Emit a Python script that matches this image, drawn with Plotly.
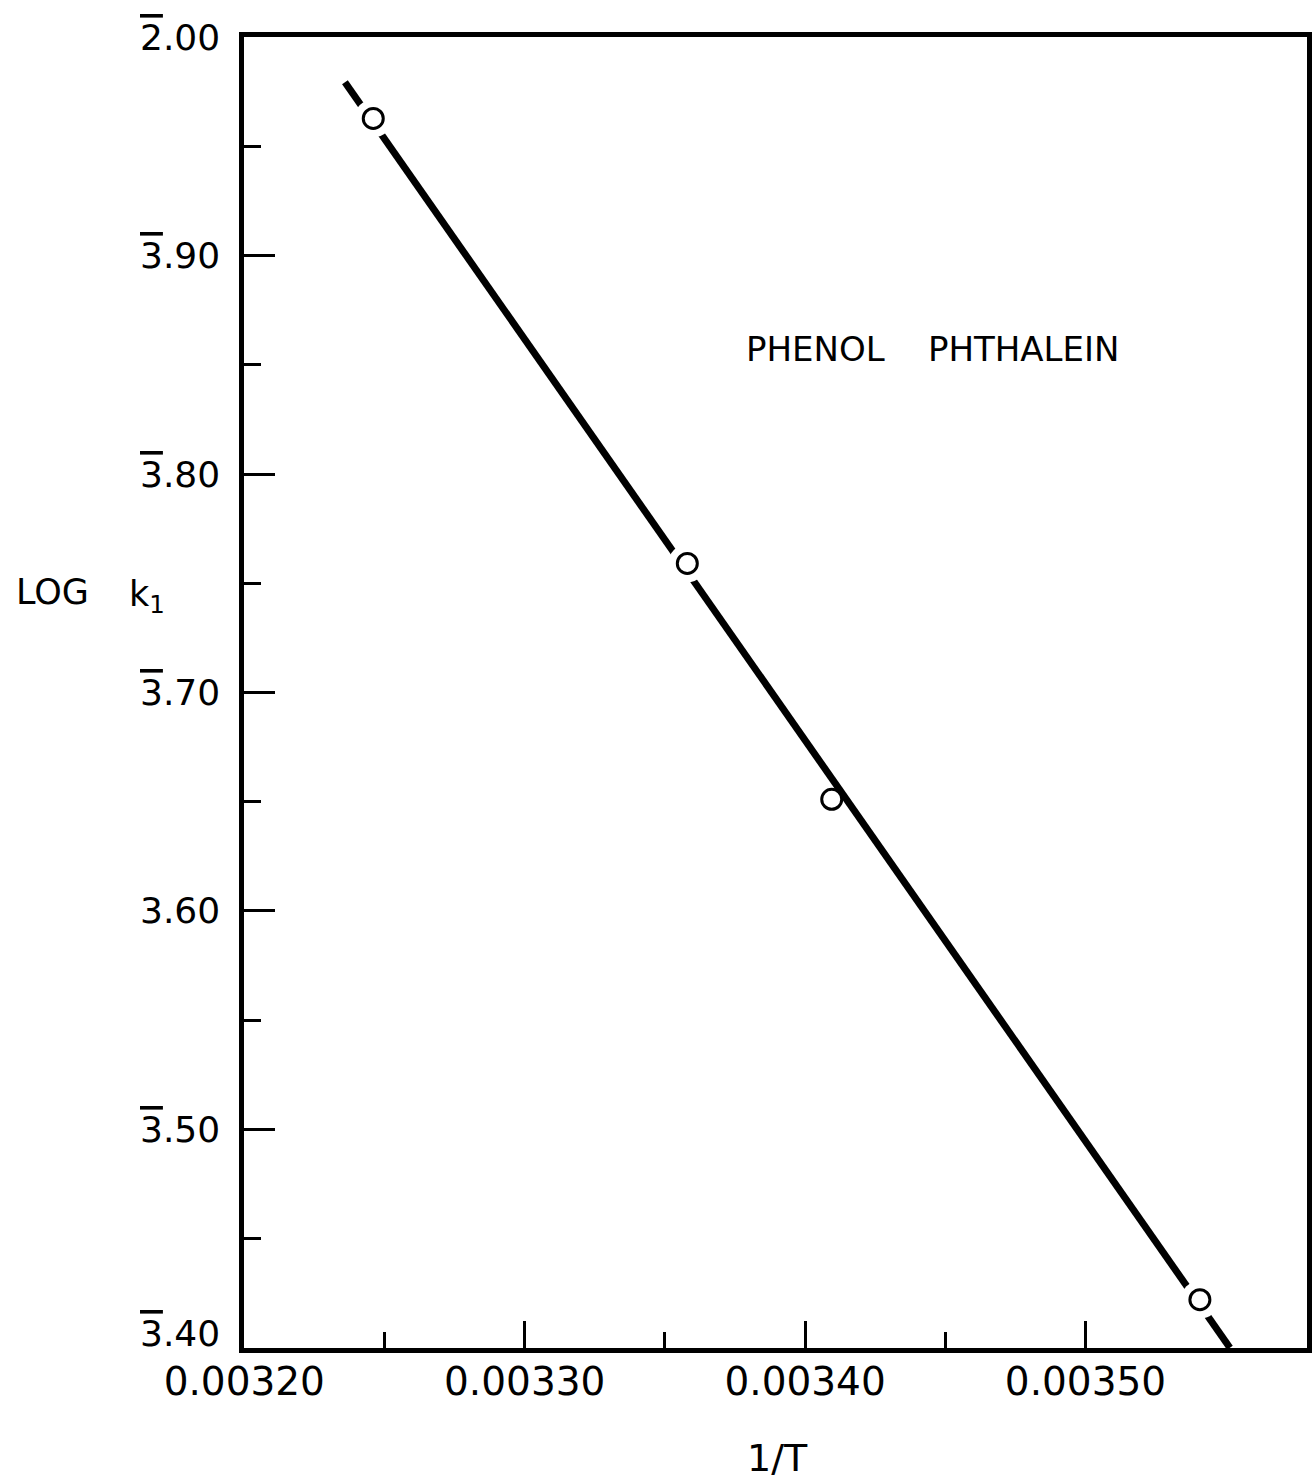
import plotly.graph_objects as go

# ---- data ----
inv_T = [0.003246, 0.003358, 0.0034095, 0.0035408]
log_k1 = [3.9628, 3.7591, 3.6511, 3.4220]

fit_x = [0.0032359, 0.0035515]
fit_y = [3.9794, 3.4000]

x_tickvals = [0.00320, 0.00330, 0.00340, 0.00350]
x_ticktext = ["0.00320", "0.00330", "0.00340", "0.00350"]
x_minor = [0.00325, 0.00335, 0.00345]

OV = "<span style='text-decoration:overline'>{}</span>"
y_tickvals = [3.40, 3.50, 3.60, 3.70, 3.80, 3.90, 4.00]
y_ticktext = [OV.format("3") + ".40", OV.format("3") + ".50", "3.60",
              OV.format("3") + ".70", OV.format("3") + ".80", OV.format("3") + ".90",
              OV.format("2") + ".00"]
y_minor = [3.45, 3.55, 3.65, 3.75, 3.85, 3.95]

# ---- style ----
gap_sizes = [38, 38, 0, 38]
y_label_shift = [14, 0, 0, 0, 0, 0, 0]
FONT = "DejaVu Sans"
W, H = 1316, 1483
L, R, T, B = 244, 4, 37, 135
PW, PH = W - L - R, H - T - B


def px(xp):
    return (xp - L) / PW


def py(yp):
    return (H - B - yp) / PH


fig = go.Figure()
fig.add_trace(go.Scatter(x=fit_x, y=fit_y, mode="lines",
                         line=dict(color="black", width=7),
                         hoverinfo="skip", showlegend=False))
fig.add_trace(go.Scatter(x=inv_T, y=log_k1, mode="markers",
                         marker=dict(size=gap_sizes, color="#ffffff", opacity=1,
                                     line=dict(width=0, color="#ffffff")),
                         hoverinfo="skip", showlegend=False, cliponaxis=False))
fig.add_trace(go.Scatter(x=inv_T, y=log_k1, mode="markers",
                         marker=dict(size=20, color="#ffffff", symbol="circle", opacity=1,
                                     line=dict(color="black", width=3)),
                         showlegend=False, cliponaxis=False))

annotations = [
    dict(text="LOG", x=px(13), y=py(592), xref="paper", yref="paper",
         xanchor="left", yanchor="middle", showarrow=False,
         font=dict(family=FONT, size=35, color="black")),
    dict(text="k<sub>1</sub>", x=px(126), y=py(596), xref="paper", yref="paper",
         xanchor="left", yanchor="middle", showarrow=False,
         font=dict(family=FONT, size=35, color="black")),
    dict(text="1/T", x=px(780), y=py(1458), xref="paper", yref="paper",
         xanchor="center", yanchor="middle", showarrow=False,
         font=dict(family=FONT, size=38, color="black")),
    dict(text="PHENOL&nbsp;&nbsp;&nbsp;&nbsp;PHTHALEIN", x=px(936), y=py(349),
         xref="paper", yref="paper", xanchor="center", yanchor="middle",
         showarrow=False, font=dict(family=FONT, size=34, color="black")),
]
for v, t, s in zip(y_tickvals, y_ticktext, y_label_shift):
    annotations.append(dict(text=t, x=px(222), y=v, xref="paper", yref="y",
                            xanchor="right", yanchor="middle", yshift=s,
                            showarrow=False,
                            font=dict(family=FONT, size=36, color="black")))

fig.update_layout(
    width=W, height=H,
    margin=dict(l=L, r=R, t=T, b=B, pad=0),
    paper_bgcolor="white", plot_bgcolor="white",
    font=dict(family=FONT, color="black"),
    xaxis=dict(range=[0.0031999, 0.003579], showgrid=False, zeroline=False,
               showline=True, linecolor="black", linewidth=4.5, mirror=True,
               ticks="inside", ticklen=27, tickwidth=3, tickcolor="black",
               tickvals=x_tickvals, ticktext=x_ticktext,
               tickfont=dict(family=FONT, size=39, color="black"),
               ticklabelstandoff=-5,
               minor=dict(tickvals=x_minor, ticks="inside", ticklen=16,
                          tickwidth=3, tickcolor="black", showgrid=False)),
    yaxis=dict(range=[3.3999, 4.0001], showgrid=False, zeroline=False,
               showline=True, linecolor="black", linewidth=4.5, mirror=True,
               ticks="inside", ticklen=31, tickwidth=3, tickcolor="black",
               tickvals=y_tickvals, showticklabels=False,
               minor=dict(tickvals=y_minor, ticks="inside", ticklen=17,
                          tickwidth=3, tickcolor="black", showgrid=False)),
    annotations=annotations,
)

fig.write_html("out.html")
